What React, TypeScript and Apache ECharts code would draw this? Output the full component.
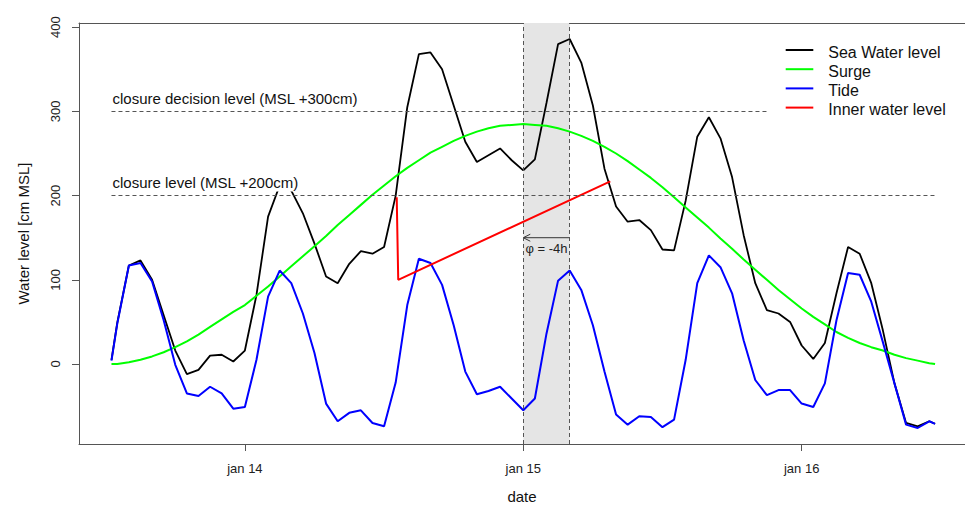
import React, { useEffect, useRef } from "react";
import * as echarts from "echarts";

const HOUR = 3600 * 1000;
const REF_DAY = Date.UTC(2014, 0, 15); // jan 15, 00:00

// Sample times in hours relative to jan 15 00:00 (half-hour end samples, hourly in between)
const sampleHours = [-35.5, ...Array.from({ length: 71 }, (_, i) => i - 35), 35.5];

// Water levels in cm relative to MSL
const seaWaterLevel = [
  5, 49, 117, 123, 100, 58, 16, -12, -7, 10,
  11, 3, 16, 82, 175, 212, 206, 179, 143, 104,
  96, 119, 134, 131, 139, 200, 305, 368, 370, 350,
  307, 264, 240, 248, 256, 242, 230, 243, 310, 380,
  386, 358, 307, 232, 187, 169, 171, 159, 136, 135,
  194, 270, 293, 268, 222, 153, 96, 64, 60, 50,
  22, 6, 25, 84, 139, 131, 96, 40, -23, -70,
  -74, -68, -71,
];

const surge = [
  0, 0, 2, 5, 9, 14, 20, 27, 35, 44,
  53, 62, 70, 81, 92, 104, 116, 128, 140, 152,
  165, 177, 189, 201, 212, 223, 233, 242, 251, 258,
  265, 271, 276, 280, 283, 284, 285, 284, 283, 280,
  276, 271, 265, 258, 250, 241, 231, 221, 210, 198,
  186, 174, 162, 149, 137, 124, 112, 100, 88, 77,
  66, 56, 47, 38, 31, 25, 20, 16, 11, 7,
  4, 1, 0,
];

const tide = [
  4, 48, 117, 120, 98, 52, -1, -35, -38, -27,
  -35, -53, -51, 5, 80, 111, 96, 60, 13, -47,
  -68, -58, -55, -70, -74, -22, 70, 125, 120, 94,
  46, -9, -36, -32, -27, -41, -55, -41, 36, 99,
  111, 88, 46, -9, -60, -72, -62, -63, -75, -66,
  5, 96, 129, 115, 84, 28, -19, -37, -31, -31,
  -47, -51, -23, 52, 108, 106, 74, 26, -23, -72,
  -76, -68, -71,
];

// Inner water level after closure
const innerHours = [-10.91, -10.78, 7.5];
const innerLevel = [198, 100, 217];

// Closure thresholds
const closureLevels = [300, 200];
const closureLabels = ["closure decision level (MSL +300cm)", "closure level (MSL +200cm)"];
const closureFromHour = [-35.5, -35.5];
const closureToHour = [21, 35.5];

// Phase shift window
const windowHours = [0, 4];
const phaseArrow = { fromHour: 4, toHour: 0, level: 150, label: "φ = -4h" };

const dayTicks = [Date.UTC(2014, 0, 14), Date.UTC(2014, 0, 15), Date.UTC(2014, 0, 16)];
const yTicks = [0, 100, 200, 300, 400];

const legendItems = [
  { name: "Sea Water level", color: "#000000" },
  { name: "Surge", color: "#00ff00" },
  { name: "Tide", color: "#0000ff" },
  { name: "Inner water level", color: "#ff0000" },
];

const FONT = '"Liberation Sans", Arial, sans-serif';
const AXIS_COLOR = "#555";

const t = (h: number) => REF_DAY + h * HOUR;

export default function App() {
  const ref = useRef<HTMLDivElement>(null);

  useEffect(() => {
    if (!ref.current) return;
    const chart = echarts.init(ref.current, undefined, { renderer: "svg" });

    const pairs = (vals: number[]) => sampleHours.map((h, i) => [t(h), vals[i]]);

    const option: any = {
      animation: false,
      backgroundColor: "#ffffff",
      grid: {
        left: 79,
        right: 0,
        top: 23,
        bottom: 63,
        show: false,
        containLabel: false,
        outerBoundsMode: "none",
      },
      xAxis: [
        {
          type: "value",
          position: "bottom",
          min: t(-38.3),
          max: t(38.08),
          name: "date",
          nameLocation: "middle",
          nameGap: 45,
          nameTextStyle: { fontFamily: FONT, fontSize: 15, color: "#111" },
          axisLine: { show: true, onZero: false, lineStyle: { color: AXIS_COLOR, width: 1 } },
          axisTick: { show: true, length: 7, customValues: dayTicks, lineStyle: { color: AXIS_COLOR } },
          axisLabel: {
            customValues: dayTicks,
            margin: 18,
            fontFamily: FONT,
            fontSize: 13,
            color: "#222",
            formatter: (v: number) => "jan " + new Date(v).getUTCDate(),
          },
          splitLine: { show: false },
        },
        {
          type: "value",
          position: "top",
          min: t(-38.3),
          max: t(38.08),
          axisLine: { show: true, onZero: false, lineStyle: { color: AXIS_COLOR, width: 1 } },
          axisTick: { show: false },
          axisLabel: { show: false },
          splitLine: { show: false },
        },
      ],
      yAxis: {
        type: "value",
        min: -95,
        max: 405,
        name: "Water level [cm MSL]",
        nameLocation: "middle",
        nameGap: 48,
        nameRotate: 90,
        nameTextStyle: { fontFamily: FONT, fontSize: 15, color: "#111" },
        axisLine: { show: true, onZero: false, lineStyle: { color: AXIS_COLOR, width: 1 } },
        axisTick: { show: true, length: 7, customValues: yTicks, lineStyle: { color: AXIS_COLOR } },
        axisLabel: {
          customValues: yTicks,
          rotate: 90,
          margin: 17,
          fontFamily: FONT,
          fontSize: 13,
          color: "#222",
        },
        splitLine: { show: false },
      },
      series: [
        {
          // shaded window and its dashed borders
          type: "line",
          z: 1,
          data: [],
          silent: true,
          markArea: {
            silent: true,
            itemStyle: { color: "#e5e5e5" },
            data: [[{ xAxis: t(windowHours[0]) }, { xAxis: t(windowHours[1]) }]],
          },
          markLine: {
            silent: true,
            symbol: ["none", "none"],
            label: { show: false },
            lineStyle: { color: AXIS_COLOR, width: 1, type: [4, 3] },
            data: [
              ...windowHours.map((h) => ({ xAxis: t(h) })),
              ...closureLevels.map((lv, i) => [
                { coord: [t(closureFromHour[i]), lv] },
                { coord: [t(closureToHour[i]), lv] },
              ]),
            ],
          },
        },
        {
          name: "Sea Water level",
          type: "line",
          z: 2,
          data: pairs(seaWaterLevel),
          showSymbol: false,
          symbol: "none",
          lineStyle: { color: "#000000", width: 1.8 },
        },
        {
          name: "Surge",
          type: "line",
          z: 2,
          data: pairs(surge),
          showSymbol: false,
          symbol: "none",
          lineStyle: { color: "#00ff00", width: 2 },
        },
        {
          name: "Tide",
          type: "line",
          z: 2,
          data: pairs(tide),
          showSymbol: false,
          symbol: "none",
          lineStyle: { color: "#0000ff", width: 2 },
        },
        {
          name: "Inner water level",
          type: "line",
          z: 2,
          data: innerHours.map((h, i) => [t(h), innerLevel[i]]),
          showSymbol: false,
          symbol: "none",
          lineStyle: { color: "#ff0000", width: 2 },
        },
        {
          // phase shift arrow
          type: "custom",
          z: 4,
          silent: true,
          clip: false,
          data: [[t(phaseArrow.fromHour), phaseArrow.level, t(phaseArrow.toHour)]],
          renderItem: (_p: any, api: any) => {
            const a = api.coord([api.value(0), api.value(1)]);
            const b = api.coord([api.value(2), api.value(1)]);
            return {
              type: "group",
              children: [
                {
                  type: "line",
                  shape: { x1: a[0], y1: a[1], x2: b[0], y2: b[1] },
                  style: { stroke: "#333", lineWidth: 1 },
                },
                {
                  type: "polyline",
                  shape: { points: [[b[0] + 7, b[1] - 3.5], [b[0], b[1]], [b[0] + 7, b[1] + 3.5]] },
                  style: { stroke: "#333", fill: null, lineWidth: 1 },
                },
                {
                  type: "text",
                  x: (a[0] + b[0]) / 2,
                  y: b[1] + 11,
                  style: {
                    text: phaseArrow.label,
                    fill: "#222",
                    font: `13px ${FONT}`,
                    align: "center",
                    verticalAlign: "middle",
                  },
                },
              ],
            };
          },
        },
        {
          // threshold captions on a white box
          type: "custom",
          z: 5,
          silent: true,
          clip: false,
          data: closureLevels.map((lv, i) => [t(closureFromHour[i]), lv, i]),
          renderItem: (_p: any, api: any) => {
            const p = api.coord([api.value(0), api.value(1)]);
            return {
              type: "text",
              x: p[0] + 1,
              y: p[1] - 12.7,
              z2: 10,
              style: {
                text: closureLabels[api.value(2)],
                fill: "#111",
                font: `15px ${FONT}`,
                align: "left",
                verticalAlign: "middle",
                backgroundColor: "#ffffff",
                padding: [1, 2, 1, 0],
              },
            };
          },
        },
      ],
      graphic: legendItems.flatMap((it, i) => [
        {
          type: "line",
          z: 10,
          shape: { x1: 785.7, y1: 50 + i * 19.2, x2: 813.3, y2: 50 + i * 19.2 },
          style: { stroke: it.color, lineWidth: 2 },
        },
        {
          type: "text",
          z: 10,
          x: 828.3,
          y: 52.3 + i * 19.2,
          style: {
            text: it.name,
            fill: "#111",
            font: `16px ${FONT}`,
            align: "left",
            verticalAlign: "middle",
          },
        },
      ]),
    };

    chart.setOption(option);
    return () => chart.dispose();
  }, []);

  return (
    <div
      ref={ref}
      style={{ position: "absolute", left: 0, top: 0, width: 965, height: 507, background: "#fff" }}
    />
  );
}
